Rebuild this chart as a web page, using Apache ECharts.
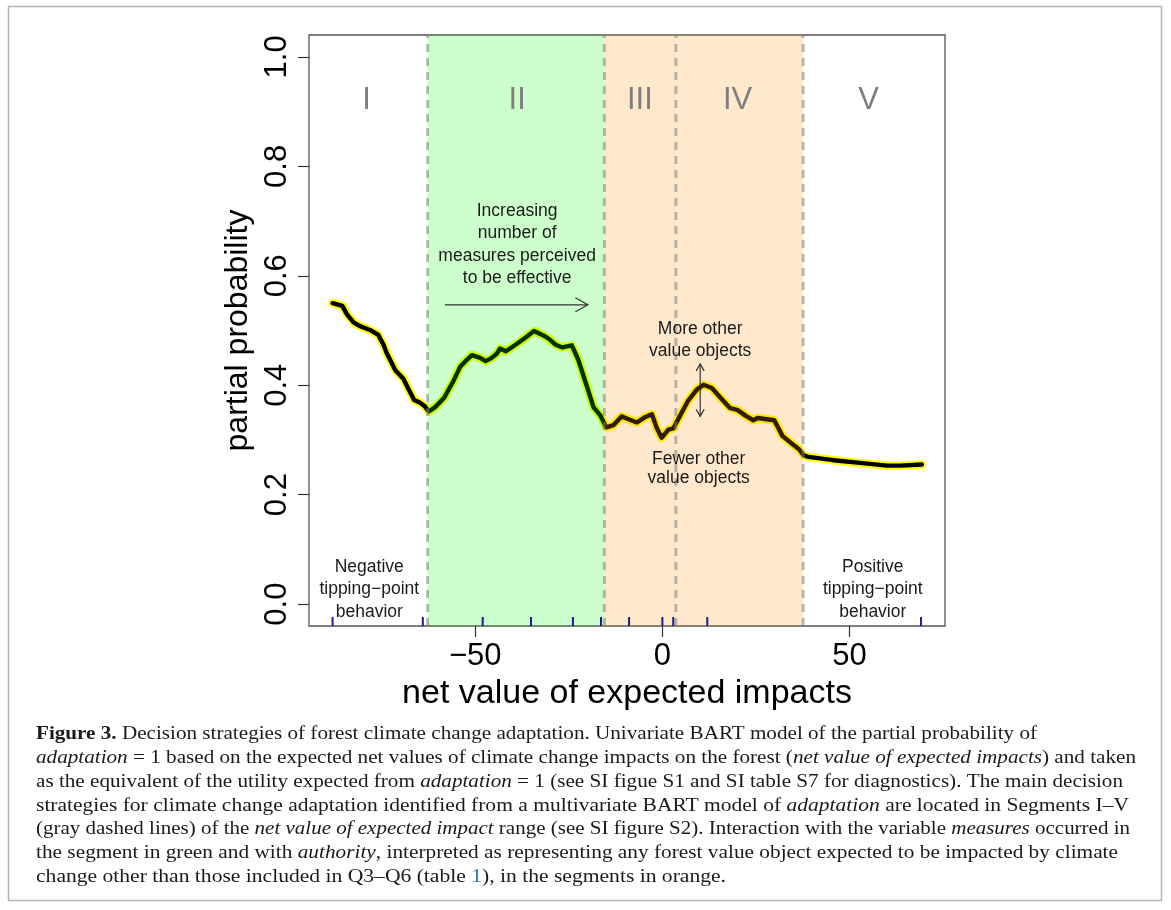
<!DOCTYPE html>
<html>
<head>
<meta charset="utf-8">
<script src="https://cdn.jsdelivr.net/npm/echarts@6/dist/echarts.min.js"></script>
<style>
html,body{margin:0;padding:0;background:#fff;}
#chart{width:1171px;height:910px;}
</style>
</head>
<body>
<div id="chart"></div>
<script>
// ---- data ----
const curveX = [-88.1,-85.5,-84.3,-82.5,-80.8,-78.1,-75.9,-74.5,-73.6,-72.7,-71.4,-69.2,-67.9,-66.3,-64.7,-63.4,-62.4,-60.7,-58.3,-55.8,-54.0,-52.3,-50.9,-48.7,-47.2,-45.6,-44.2,-43.4,-41.8,-40.3,-38.0,-36.0,-34.3,-31.5,-30.0,-28.5,-26.7,-24.2,-22.5,-20.5,-18.4,-16.6,-15.0,-13.1,-10.9,-8.7,-6.8,-4.5,-2.8,-1.5,-0.2,1.6,2.9,4.3,6.9,9.2,11.0,13.2,15.4,18.1,20.0,22.5,24.3,25.4,29.9,32.1,34.8,36.5,37.7,39.0,45.7,52.8,60.0,63.5,69.3];
const curveY = [0.550,0.545,0.530,0.515,0.508,0.501,0.492,0.474,0.458,0.446,0.428,0.412,0.394,0.373,0.368,0.361,0.352,0.360,0.377,0.408,0.434,0.446,0.455,0.450,0.444,0.450,0.458,0.467,0.462,0.469,0.480,0.490,0.499,0.490,0.483,0.474,0.469,0.473,0.447,0.405,0.360,0.345,0.323,0.327,0.343,0.337,0.332,0.342,0.347,0.322,0.304,0.319,0.321,0.339,0.372,0.392,0.401,0.395,0.378,0.358,0.355,0.343,0.336,0.340,0.336,0.307,0.292,0.283,0.272,0.269,0.263,0.258,0.253,0.253,0.255];
const rugValues = [-88.1,-64.0,-48.0,-35.1,-23.9,-16.4,-8.9,0,2.9,12.0,69.1];
const segmentBreaks = [-62.7,-15.5,3.6,37.6];
const greenZone = [-62.7,-15.5];
const orangeZone = [-15.5,37.6];
const segmentNames = ['I','II','III','IV','V'];
const segmentNameX = [-79,-38.8,-6,20.1,55.1];
const xTicks = [-50,0,50];
const yTicks = [0,0.2,0.4,0.6,0.8,1.0];
const xTitle = 'net value of expected impacts';
const yTitle = 'partial probability';

// caption lines: [style, text] segments (n normal, i italic, b bold, u blue)
const captionLines = [
  [['b','Figure 3.'],['n',' Decision strategies of forest climate change adaptation. Univariate BART model of the partial probability of']],
  [['i','adaptation'],['n',' = 1 based on the expected net values of climate change impacts on the forest ('],['i','net value of expected impacts'],['n',') and taken']],
  [['n','as the equivalent of the utility expected from '],['i','adaptation'],['n',' = 1 (see SI figue S1 and SI table S7 for diagnostics). The main decision']],
  [['n','strategies for climate change adaptation identified from a multivariate BART model of '],['i','adaptation'],['n',' are located in Segments I\u2013V']],
  [['n','(gray dashed lines) of the '],['i','net value of expected impact'],['n',' range (see SI figure S2). Interaction with the variable '],['i','measures'],['n',' occurred in']],
  [['n','the segment in green and with '],['i','authority'],['n',', interpreted as representing any forest value object expected to be impacted by climate']],
  [['n','change other than those included in Q3\u2013Q6 (table '],['u','1'],['n','), in the segments in orange.']]
];

// ---- build ----
const curve = curveX.map((x,i)=>[x,curveY[i]]);
const XMIN=-94.4, XMAX=75.5, YMIN=-0.04, YMAX=1.04;
const sansFont = '"Liberation Sans", Arial, sans-serif';
const serifFont = '"Liberation Serif", "Times New Roman", serif';

const annotations = [
  {x:-38.8, y:0.657, text:'Increasing\nnumber of\nmeasures perceived\nto be effective', lh:22.2},
  {x:10.1, y:0.4827, text:'More other\nvalue objects', lh:22.2},
  {x:9.7, y:0.248, text:'Fewer other\nvalue objects', lh:19},
  {x:-78.3, y:0.0268, text:'Negative\ntipping\u2212point\nbehavior', lh:22.5},
  {x:56.2, y:0.0268, text:'Positive\ntipping\u2212point\nbehavior', lh:22.5}
];
const arrows = [
  {x1:-58.1, y1:0.547, x2:-19.9, y2:0.547, both:false, len:12.5, half:7},
  {x1:10.1, y1:0.343, x2:10.1, y2:0.439, both:true, len:7, half:4}
];

const zoneData = [[greenZone[0],greenZone[1],0],[orangeZone[0],orangeZone[1],1]];
const zoneColors = ['rgba(0,255,0,0.2)','rgba(255,140,0,0.2)'];

function arrowHead(px,py,ang,len,half){
  const bx = px - len*Math.cos(ang), by = py - len*Math.sin(ang);
  const nx = -Math.sin(ang), ny = Math.cos(ang);
  return {type:'polyline', shape:{points:[[bx+nx*half,by+ny*half],[px,py],[bx-nx*half,by-ny*half]]}, style:{stroke:'#333',lineWidth:1.2,fill:null}};
}

const chart = echarts.init(document.getElementById('chart'), null, {renderer:'canvas'});

// caption graphic with horizontal fitting
const captionTargets = [1001,1100,1087,1093,1094,1082,690];
const capSize = 19.5;
const fonts = {
  n: capSize+'px '+serifFont,
  i: 'italic '+capSize+'px '+serifFont,
  b: 'bold '+capSize+'px '+serifFont,
  u: capSize+'px '+serifFont
};
const mctx = document.createElement('canvas').getContext('2d');
function measureLine(segs){
  let w=0; segs.forEach(s=>{mctx.font=fonts[s[0]]; w+=mctx.measureText(s[1]).width;}); return w;
}
const captionY0 = 734, captionDY = 23.8;
const captionGraphics = captionLines.map((segs,k)=>{
  const w = measureLine(segs);
  const sx = captionTargets[k]/w;
  return {
    type:'text', x:36, y:captionY0+k*captionDY, scaleX:sx, originX:0, originY:0,
    style:{
      text: segs.map(s=>'{'+s[0]+'|'+s[1]+'}').join(''),
      verticalAlign:'middle', align:'left',
      rich:{
        n:{font:fonts.n, fill:'#1a1a1a'},
        i:{font:fonts.i, fill:'#1a1a1a'},
        b:{font:fonts.b, fill:'#1a1a1a'},
        u:{font:fonts.u, fill:'#2b7bb9'}
      }
    }
  };
});

const option = {
  animation:false,
  backgroundColor:'#ffffff',
  grid:{left:309, right:226, top:35, bottom:284, show:true, borderColor:'#555', borderWidth:1.3, backgroundColor:'transparent'},
  xAxis:{
    type:'value', min:XMIN, max:XMAX,
    axisLine:{show:false, onZero:false},
    axisTick:{show:true, inside:false, length:11, lineStyle:{color:'#333', width:1.2}, customValues:xTicks},
    axisLabel:{show:true, customValues:xTicks, margin:15, fontSize:31, color:'#000', fontFamily:sansFont,
      formatter:v=> (v<0? '\u2212'+Math.abs(v): String(v))},
    splitLine:{show:false},
    name:xTitle, nameLocation:'middle', nameGap:38,
    nameTextStyle:{fontSize:34, color:'#000', fontFamily:sansFont}
  },
  yAxis:{
    type:'value', min:YMIN, max:YMAX,
    axisLine:{show:false, onZero:false},
    axisTick:{show:true, inside:false, length:11, lineStyle:{color:'#333', width:1.2}, customValues:yTicks},
    axisLabel:{show:true, customValues:yTicks, rotate:90, margin:16, fontSize:31, color:'#000', fontFamily:sansFont,
      formatter:v=>v.toFixed(1)},
    splitLine:{show:false},
    name:yTitle, nameLocation:'middle', nameGap:50, nameRotate:90,
    nameTextStyle:{fontSize:32, color:'#000', fontFamily:sansFont}
  },
  graphic:[
    {type:'rect', shape:{x:8.5, y:6.5, width:1153, height:894}, style:{fill:null, stroke:'#b5b5b5', lineWidth:1.5}, silent:true, z:0},
    ...captionGraphics
  ],
  series:[
    {type:'line', data:curve, symbol:'none', smooth:false, z:2,
      lineStyle:{color:'#ffff00', width:8.5, join:'round', cap:'round'}},
    {type:'line', data:curve, symbol:'none', smooth:false, z:3,
      lineStyle:{color:'#000000', width:4.4, join:'round', cap:'round'}},
    {type:'custom', z:10, data:zoneData, silent:true,
      renderItem:(params,api)=>{
        const p1 = api.coord([api.value(0), YMAX]);
        const p2 = api.coord([api.value(1), YMIN]);
        return {type:'rect', shape:{x:p1[0], y:p1[1], width:p2[0]-p1[0], height:p2[1]-p1[1]}, style:{fill:zoneColors[api.value(2)]}};
      }},
    {type:'custom', z:11, data:segmentBreaks.map(v=>[v]), silent:true,
      renderItem:(params,api)=>{
        const p1 = api.coord([api.value(0), YMIN]);
        const p2 = api.coord([api.value(0), YMAX]);
        return {type:'line', shape:{x1:p1[0], y1:p1[1], x2:p2[0], y2:p2[1]}, style:{stroke:'rgba(128,128,128,0.55)', lineWidth:3, lineDash:[8,6]}};
      }},
    {type:'custom', z:12, data:rugValues.map(v=>[v]), silent:true,
      renderItem:(params,api)=>{
        const p = api.coord([api.value(0), YMIN]);
        return {type:'line', shape:{x1:p[0], y1:p[1], x2:p[0], y2:p[1]-9}, style:{stroke:'#1c1c8a', lineWidth:2}};
      }},
    {type:'custom', z:13, data:segmentNames.map((n,i)=>[segmentNameX[i], 0.92, i]), silent:true,
      renderItem:(params,api)=>{
        const p = api.coord([api.value(0), api.value(1)]);
        return {type:'text', x:p[0], y:p[1], style:{text:segmentNames[api.value(2)], font:'31px '+sansFont, fill:'#7f7f7f', align:'center', verticalAlign:'middle'}};
      }},
    {type:'custom', z:14, data:annotations.map((a,i)=>[a.x,a.y,i]), silent:true,
      renderItem:(params,api)=>{
        const a = annotations[api.value(2)];
        const p = api.coord([api.value(0), api.value(1)]);
        return {type:'text', x:p[0], y:p[1], style:{text:a.text, font:'17.5px '+sansFont, fill:'#1a1a1a', align:'center', verticalAlign:'middle', lineHeight:a.lh}};
      }},
    {type:'custom', z:15, data:arrows.map((a,i)=>[a.x1,a.y1,i]), silent:true,
      renderItem:(params,api)=>{
        const a = arrows[api.value(2)];
        const p1 = api.coord([a.x1,a.y1]);
        const p2 = api.coord([a.x2,a.y2]);
        const ang = Math.atan2(p2[1]-p1[1], p2[0]-p1[0]);
        const children = [
          {type:'line', shape:{x1:p1[0],y1:p1[1],x2:p2[0],y2:p2[1]}, style:{stroke:'#333',lineWidth:1.2}},
          arrowHead(p2[0],p2[1],ang,a.len,a.half)
        ];
        if(a.both) children.push(arrowHead(p1[0],p1[1],ang+Math.PI,a.len,a.half));
        return {type:'group', children};
      }}
  ]
};
chart.setOption(option);
</script>
</body>
</html>
